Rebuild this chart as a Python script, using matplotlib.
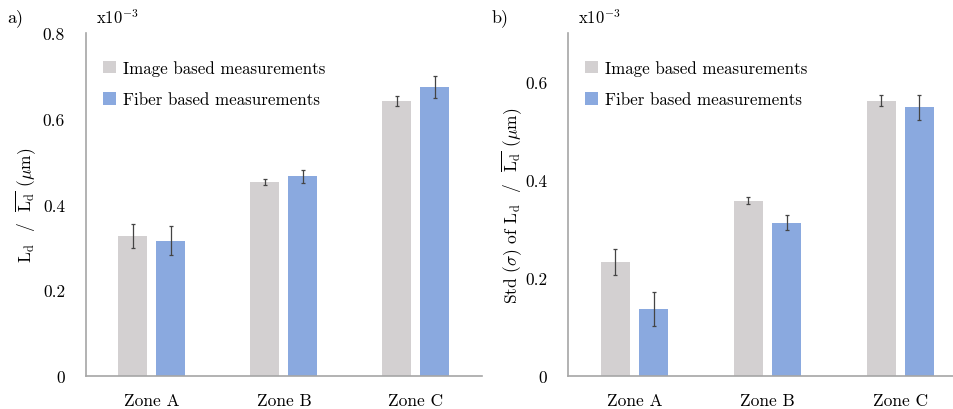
import matplotlib.pyplot as plt
import numpy as np

plt.rcParams['font.family'] = 'cmr10'
plt.rcParams['mathtext.fontset'] = 'cm'
plt.rcParams['axes.unicode_minus'] = False
plt.rcParams['axes.formatter.use_mathtext'] = True

zones = ['Zone A', 'Zone B', 'Zone C']
series = ['Image based measurements', 'Fiber based measurements']
colors = ['#d3d0d1', '#8aa9df']

# a) mean Ld / mean(Ld), x10^-3
mean_img = [0.326, 0.453, 0.641]
mean_img_err = [0.028, 0.007, 0.012]
mean_fib = [0.316, 0.466, 0.674]
mean_fib_err = [0.033, 0.015, 0.025]

# b) std of Ld / mean(Ld), x10^-3
std_img = [0.233, 0.358, 0.562]
std_img_err = [0.026, 0.008, 0.012]
std_fib = [0.137, 0.313, 0.548]
std_fib_err = [0.034, 0.015, 0.025]

fig = plt.figure(figsize=(9.54, 4.10), dpi=100)
ax1 = fig.add_axes([0.0901, 0.0805, 0.415, 0.8366])
ax2 = fig.add_axes([0.5954, 0.0805, 0.418, 0.8366])

x = np.arange(len(zones))
w = 0.22
off = 0.144


def draw(ax, img, img_err, fib, fib_err, ymax, yticks):
    ax.bar(x - off, img, w, color=colors[0], label=series[0])
    ax.bar(x + off, fib, w, color=colors[1], label=series[1])
    ax.errorbar(x - off, img, yerr=img_err, fmt='none', ecolor='#444444',
                elinewidth=0.9, capsize=1.5, capthick=0.9)
    ax.errorbar(x + off, fib, yerr=fib_err, fmt='none', ecolor='#444444',
                elinewidth=0.9, capsize=1.5, capthick=0.9)
    ax.set_xlim(-0.5, 2.5)
    ax.set_ylim(0, ymax)
    ax.set_xticks(x)
    ax.set_xticklabels(zones)
    ax.set_yticks(yticks)
    ax.set_yticklabels(['0' if t == 0 else '%.1f' % t for t in yticks])
    ax.tick_params(length=0, labelsize=12.5)
    ax.tick_params(axis='x', pad=12)
    ax.tick_params(axis='y', pad=15)
    for s in ['top', 'right']:
        ax.spines[s].set_visible(False)
    for s in ['left', 'bottom']:
        ax.spines[s].set_color('#a6a6a6')
        ax.spines[s].set_linewidth(1.2)
    ax.legend(loc='upper left', bbox_to_anchor=(0.0, 0.97), frameon=False,
              fontsize=12.2, handlelength=0.75, handleheight=0.75,
              handletextpad=0.45, labelspacing=0.95, borderaxespad=0.6)
    ax.text(0.025, 1.02, r'x10$^{\mathrm{-3}}$', transform=ax.transAxes,
            fontsize=12, ha='left', va='bottom')


draw(ax1, mean_img, mean_img_err, mean_fib, mean_fib_err, 0.8,
     [0, 0.2, 0.4, 0.6, 0.8])
draw(ax2, std_img, std_img_err, std_fib, std_fib_err, 0.7,
     [0, 0.2, 0.4, 0.6])

ax1.set_ylabel(r'$\mathrm{L_d}$  /  $\overline{\mathrm{L_d}}$ ($\mathrm{\mu}$m)',
               fontsize=12.5, labelpad=3)
ax2.set_ylabel(r'Std ($\sigma$) of $\mathrm{L_d}$  /  $\overline{\mathrm{L_d}}$ ($\mathrm{\mu}$m)',
               fontsize=12.5, labelpad=0)

fig.text(0.008, 0.955, 'a)', fontsize=13, ha='left', va='center')
fig.text(0.515, 0.955, 'b)', fontsize=13, ha='left', va='center')

plt.savefig('out.png', dpi=100)
